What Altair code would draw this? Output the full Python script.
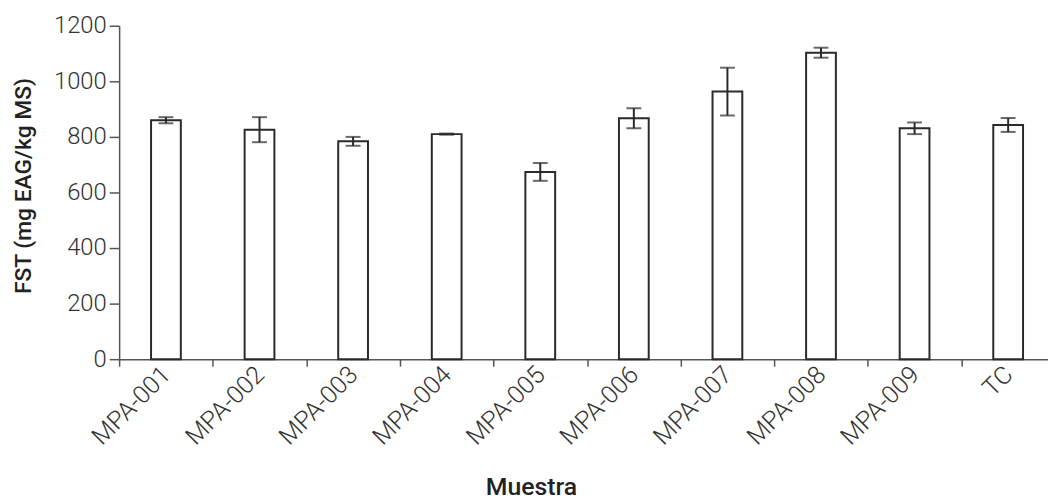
import altair as alt
import pandas as pd

samples = ["MPA-001", "MPA-002", "MPA-003", "MPA-004", "MPA-005",
           "MPA-006", "MPA-007", "MPA-008", "MPA-009", "TC"]
means = [860, 826, 784, 810, 674, 867, 963, 1103, 831, 843]
errs = [11, 45, 16, 2, 32, 36, 86, 18, 21, 25]
y_ticks = [0, 200, 400, 600, 800, 1000, 1200]

df = pd.DataFrame({
    "Muestra": samples,
    "FST": means,
    "low": [m - e for m, e in zip(means, errs)],
    "high": [m + e for m, e in zip(means, errs)],
})

INK = "#2a2a2a"
AX = "#555555"
YTITLE = "FST (mg EAG/kg MS)"

xscale = alt.Scale(paddingInner=0, paddingOuter=0, range=[0, 943])
yscale = alt.Scale(domain=[0, 1200], nice=False)

x_axis = alt.Axis(
    title="Muestra", tickBand="extent", tickSize=7, labelAngle=315,
    labelAlign="right", labelBaseline="middle", labelPadding=4, labelFontSize=25,
    titleX=415, titleY=136, titleAlign="center", titleBaseline="alphabetic",
    titleFontSize=25,
)
y_axis = alt.Axis(
    title=YTITLE, values=y_ticks, format="d", tickSize=10, labelPadding=3,
    labelFontSize=24, titleFontSize=23,
    grid=False, titleX=-89, titleY=161, titleAlign="center",
    titleBaseline="alphabetic", titleAngle=270,
)

base = alt.Chart(df)

bars = base.mark_bar(fill="white", stroke=INK, strokeWidth=2, size=30).encode(
    x=alt.X("Muestra:N", sort=samples, scale=xscale, axis=x_axis),
    y=alt.Y("FST:Q", scale=yscale, axis=y_axis, title=YTITLE),
)

rule = base.mark_rule(color=INK, strokeWidth=2).encode(
    x=alt.X("Muestra:N", sort=samples, title="Muestra"),
    y=alt.Y("low:Q", title=YTITLE),
    y2="high:Q",
)

whisk = base.transform_fold(["low", "high"], as_=["k", "v"]).mark_tick(
    color=INK, thickness=2, size=15, orient="horizontal"
).encode(
    x=alt.X("Muestra:N", sort=samples, title="Muestra"),
    y=alt.Y("v:Q", title=YTITLE),
)

chart = alt.layer(bars, rule, whisk).properties(
    width=936, height=336,
    autosize=alt.AutoSizeParams(type="none"),
    padding={"left": 112, "top": 16, "right": 0, "bottom": 140},
    background="white",
).configure_view(stroke=None).configure_axis(
    domainColor=AX, tickColor=AX, domainWidth=1.5, tickWidth=1.5,
    labelFont="Roboto", labelFontWeight=300, labelColor="#333333",
    titleFont="Roboto", titleFontWeight=500, titleColor="#222222",
)

chart.save("out.html", embed_options={"renderer": "svg", "actions": False})
